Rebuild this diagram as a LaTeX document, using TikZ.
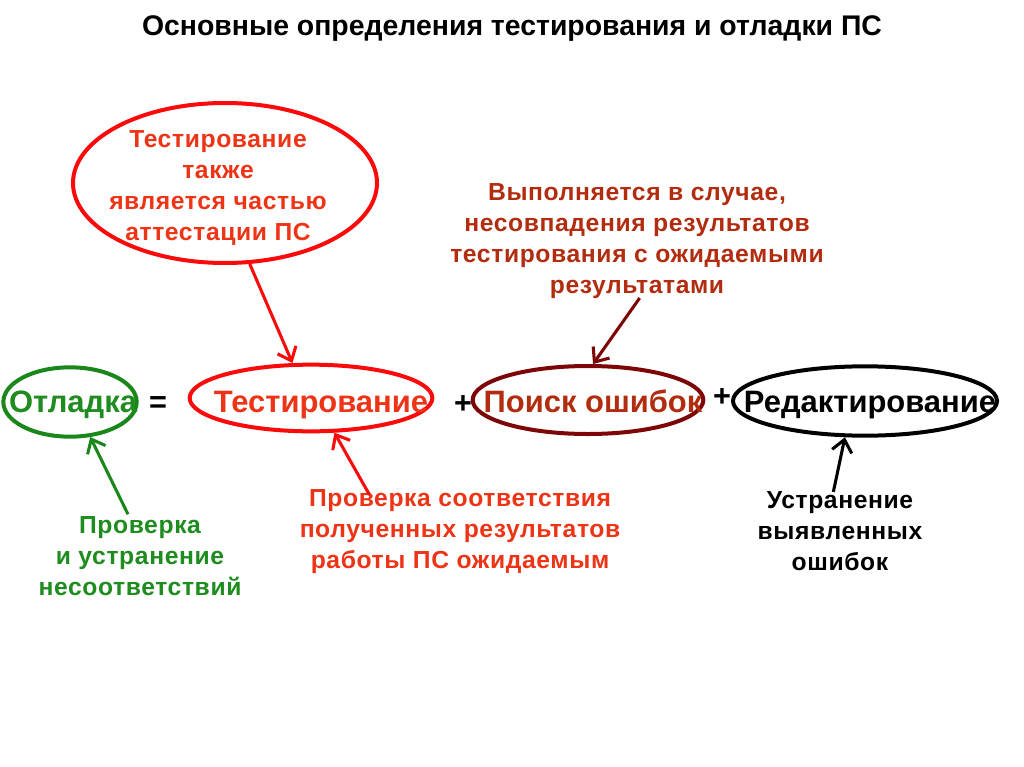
\documentclass[tikz,border=0pt]{standalone}
\usepackage{fontspec}
\setmainfont{Liberation Sans}
\newfontfamily\spacedfont[LetterSpace=2.5]{Liberation Sans}
\usetikzlibrary{shapes.geometric,arrows.meta}
\definecolor{cgreen}{RGB}{25,135,25}
\definecolor{cgreentxt}{RGB}{30,140,30}
\definecolor{cred}{RGB}{250,10,10}
\definecolor{credtxt}{RGB}{238,52,22}
\definecolor{cbrown}{RGB}{125,5,5}
\definecolor{cbrowntxt}{RGB}{178,45,15}
\tikzset{
  oval/.style={ellipse, draw, line width=3pt, inner sep=0pt},
  mainlabel/.style={anchor=base, inner sep=0pt, font=\bfseries\fontsize{23.2}{26}\selectfont},
  note/.style={align=center, font=\spacedfont\bfseries\fontsize{18.5}{23.3}\selectfont},
  arr/.style={line width=2.3pt, -{Straight Barb[length=9pt,width=15pt,line width=2.3pt]}},
  sign/.style={font=\bfseries\fontsize{23}{26}\selectfont},
}
\begin{document}
\begin{tikzpicture}[x=0.75pt,y=-0.75pt]
\useasboundingbox[fill=white] (0,0) rectangle (1024,767);
\node[font=\bfseries\fontsize{21.3}{24}\selectfont] (title) at (512,29) {Основные определения тестирования и отладки ПС};

% top-left ellipse
\node[oval, draw=cred, minimum width=228pt, minimum height=120pt] (tell) at (225,183) {};
\node[note, text=credtxt] (telltxt) at (218,188) {Тестирование\\также\\является частью\\аттестации ПС};

% top brown note
\node[note, text=cbrowntxt] (vyp) at (637,241) {Выполняется в случае,\\несовпадения результатов\\тестирования с ожидаемыми\\результатами};

% main row
\node[oval, draw=cgreen, minimum width=100pt, minimum height=52pt] (otl) at (70,402) {};
\node[mainlabel, text=cgreentxt] (otltxt) at (73,412) {Отладка};
\node[sign] (eq) at (158,405) {=};
\node[oval, draw=cred, minimum width=182pt, minimum height=50pt] (test) at (311,398) {};
\node[mainlabel, text=credtxt] (testtxt) at (321,412) {Тестирование};
\node[sign] (p1) at (463,405) {+};
\node[oval, draw=cbrown, minimum width=173pt, minimum height=51pt] (poisk) at (588,400) {};
\node[mainlabel, text=cbrowntxt] (poisktxt) at (593,412) {Поиск ошибок};
\node[sign] (p2) at (722,398) {+};
\node[oval, draw=black, minimum width=198pt, minimum height=52pt] (red) at (865,401) {};
\node[mainlabel, text=black] (redtxt) at (870,412) {Редактирование};

% bottom notes
\node[note, text=cgreentxt] (gnote) at (140,556) {Проверка\\и устранение\\несоответствий};
\node[note, text=credtxt] (rnote) at (460,532) {Проверка соответствия\\полученных результатов\\работы ПС ожидаемым};
\node[note, text=black] (bnote) at (840,531) {Устранение\\выявленных\\ошибок};

% arrows
\draw[arr, cred] (tell.-73) -- (test.118);
\draw[arr, cbrown] ([xshift=2pt,yshift=4pt]vyp.south) -- (poisk.82);
\draw[arr, cgreen] ([xshift=-9pt,yshift=-2pt]gnote.north) -- (otl.-60);
\draw[arr, cred] ([xshift=-68pt,yshift=-7pt]rnote.north) -- (test.-56);
\draw[arr, black] ([xshift=-5pt,yshift=-4pt]bnote.north) -- (red.-119);
\end{tikzpicture}
\end{document}
